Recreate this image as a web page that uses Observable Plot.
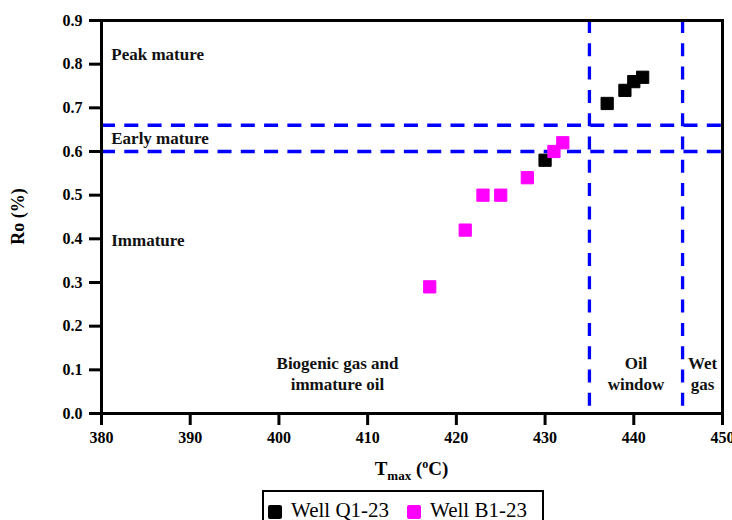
<!DOCTYPE html>
<html>
<head>
<meta charset="utf-8">
<script src="https://cdn.jsdelivr.net/npm/d3@7"></script>
<script src="https://cdn.jsdelivr.net/npm/@observablehq/plot@0.6"></script>
<style>
  html, body { margin: 0; padding: 0; background: #fff; overflow: hidden; }
  #wrap { position: relative; width: 732px; height: 520px; font-family: "Liberation Serif", "Times New Roman", serif; }
  #chart svg { font-family: "Liberation Serif", "Times New Roman", serif; background: #fff; color: #000; overflow: visible; }
  #legend {
    position: absolute; left: 262px; top: 490px; width: 282px; height: 44px;
    box-sizing: border-box; border: 2.5px solid #000; background: #fff;
    font-size: 21px; line-height: 24px; color: #000;
  }
  #legend .item { position: absolute; top: 6px; display: flex; align-items: center; }
  #legend .sw { width: 14px; height: 14px; border-radius: 2px; margin-right: 9px; margin-top: 4px; }
</style>
</head>
<body>
<div id="wrap"><div id="chart"></div>
  <div id="legend">
    <div class="item" style="left:4px"><span class="sw" style="background:#000"></span>Well Q1-23</div>
    <div class="item" style="left:143px"><span class="sw" style="background:#ff00ff"></span>Well B1-23</div>
  </div>
</div>
<script>
// Tmax vs vitrinite reflectance for two wells
const q1Tmax = [430, 437, 439, 440, 441];
const q1Ro   = [0.58, 0.71, 0.74, 0.76, 0.77];
const b1Tmax = [417, 421, 423, 425, 428, 431, 432];
const b1Ro   = [0.29, 0.42, 0.50, 0.50, 0.54, 0.60, 0.62];

// Maturity zone boundaries
const roBounds   = [0.6, 0.66];
const tmaxBounds = [435, 445.5];

const xTicks = [380, 390, 400, 410, 420, 430, 440, 450];
const yTicks = [0, 0.1, 0.2, 0.3, 0.4, 0.5, 0.6, 0.7, 0.8, 0.9];

// Zone labels (Ro bands on the left, Tmax windows along the bottom)
const roZoneText = ["Peak mature", "Early mature", "Immature"];
const roZoneY    = [0.822, 0.63, 0.395];
const roZoneX    = [381.1, 381.1, 381.1];
const tZoneText  = ["Biogenic gas and\nimmature oil", "Oil\nwindow", "Wet\ngas"];
const tZoneX     = [406.6, 440.25, 447.75];
const tZoneY     = [0.094, 0.094, 0.094];

const q1 = q1Tmax.map((t, i) => ({tmax: t, ro: q1Ro[i]}));
const b1 = b1Tmax.map((t, i) => ({tmax: t, ro: b1Ro[i]}));
const roZones = roZoneText.map((s, i) => ({s, x: roZoneX[i], y: roZoneY[i]}));
const tZones = tZoneText.map((s, i) => ({s, x: tZoneX[i], y: tZoneY[i]}));

const font = "Liberation Serif, Times New Roman, serif";
const W = 732, H = 488, mL = 101, mR = 10, mT = 20, mB = 75;
const xDomain = [380, 450], yDomain = [0, 0.9];
const tick = 12; // outward tick length in pixels
// the same length expressed in each axis' data units
const tickX = tick * (xDomain[1] - xDomain[0]) / (W - mL - mR);
const tickY = tick * (yDomain[1] - yDomain[0]) / (H - mT - mB);

const chart = Plot.plot({
  width: W,
  height: H,
  marginLeft: mL,
  marginRight: mR,
  marginTop: mT,
  marginBottom: mB,
  x: {domain: xDomain},
  y: {domain: yDomain},
  marks: [
    Plot.ruleY(roBounds, {stroke: "#0000ff", strokeWidth: 3.5, strokeDasharray: "14,9.3"}),
    Plot.ruleX(tmaxBounds, {stroke: "#0000ff", strokeWidth: 3.3, strokeDasharray: "13,10.3"}),
    Plot.text(roZones, {x: "x", y: "y", text: "s", textAnchor: "start", fontSize: 17, fontWeight: "bold", fill: "#111"}),
    Plot.text(tZones, {x: "x", y: "y", text: "s", textAnchor: "middle", lineAnchor: "middle", lineHeight: 1.24, fontSize: 17, fontWeight: "bold", fill: "#111"}),
    Plot.dot(q1, {x: "tmax", y: "ro", symbol: "square", r: 6.9, fill: "#000", stroke: "#000", strokeWidth: 1, strokeLinejoin: "round"}),
    Plot.dot(b1, {x: "tmax", y: "ro", symbol: "square", r: 6.9, fill: "#ff00ff", stroke: "#ff00ff", strokeWidth: 1, strokeLinejoin: "round"}),
    // outward tick marks below the x axis and left of the y axis
    Plot.ruleX(xTicks, {x: d => d, y1: yDomain[0], y2: yDomain[0] - tickY, stroke: "#000", strokeWidth: 3}),
    Plot.ruleY(yTicks, {y: d => d, x1: xDomain[0], x2: xDomain[0] - tickX, stroke: "#000", strokeWidth: 3}),
    Plot.axisX({ticks: xTicks, tickSize: 0, tickPadding: tick + 6, label: null}),
    Plot.axisY({ticks: yTicks, tickFormat: d3.format(".1f"), tickSize: 0, tickPadding: tick + 7, label: null}),
    Plot.frame({stroke: "#000", strokeWidth: 3})
  ]
});

document.getElementById("chart").appendChild(chart);

// Bold serif tick labels
d3.select(chart).selectAll('g[aria-label$="tick label"]')
  .attr("font-size", 16).attr("font-weight", "bold").attr("fill", "#000");

// Axis titles with sub/superscripts
const svg = d3.select(chart);
const cx = (mL + W - mR) / 2;
const xt = svg.append("text")
  .attr("x", cx).attr("y", 475)
  .attr("text-anchor", "middle")
  .attr("font-family", font).attr("font-weight", "bold").attr("font-size", 19).attr("fill", "#000");
xt.append("tspan").text("T");
xt.append("tspan").attr("font-size", 13).attr("dy", 5).text("max");
xt.append("tspan").attr("dy", -5).text(" (");
xt.append("tspan").attr("font-size", 12).attr("dy", -7).text("o");
xt.append("tspan").attr("dy", 7).text("C)");

svg.append("text")
  .attr("transform", `translate(24,${(mT + H - mB) / 2}) rotate(-90)`)
  .attr("text-anchor", "middle")
  .attr("font-family", font).attr("font-weight", "bold").attr("font-size", 18).attr("fill", "#000")
  .text("Ro (%)");
</script>
</body>
</html>
